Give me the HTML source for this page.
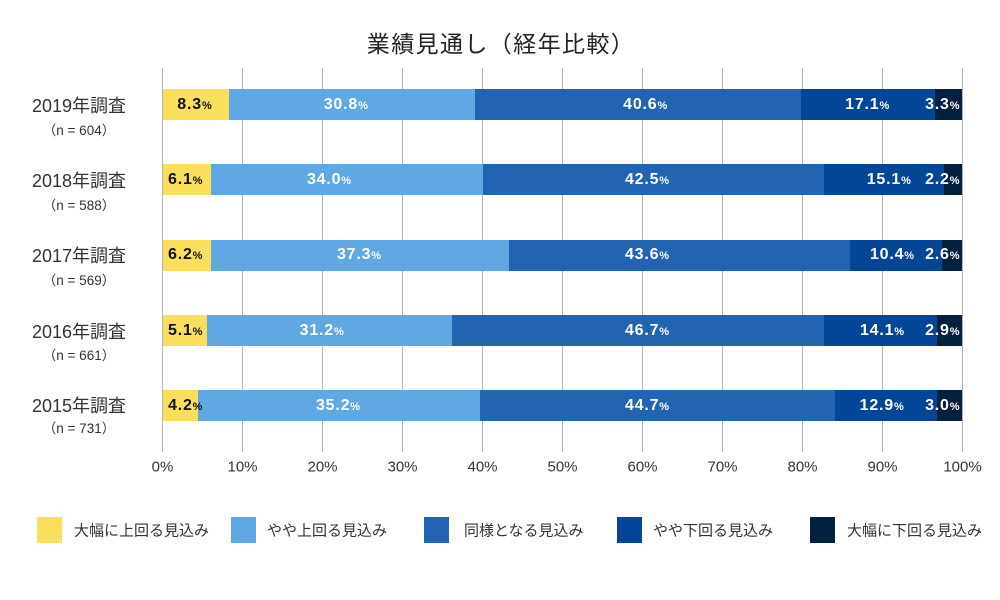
<!DOCTYPE html>
<html><head><meta charset="utf-8">
<style>
html,body{margin:0;padding:0;background:#fff;}
#c{position:relative;width:1000px;height:600px;overflow:hidden;background:#fff;font-family:"Liberation Sans","Noto Sans CJK JP",sans-serif;color:#333;}
.t{position:absolute;white-space:nowrap;}
.title{left:501px;top:42px;transform:translate(-50%,-50%);font-size:23px;letter-spacing:1.4px;color:#222;font-family:"Noto Sans CJK JP","Liberation Sans",sans-serif;font-weight:400;}
.g{position:absolute;top:68px;height:384px;width:1px;background:#b5b5b5;}
.bar{position:absolute;height:31px;}
.y1{background:#F9DF5C;}
.y2{background:#60A8E3;}
.y3{background:#2263B2;}
.y4{background:#034597;}
.y5{background:#03203F;}
.lbl{position:absolute;white-space:nowrap;transform:translate(-50%,-50%);font-weight:bold;font-size:16px;color:#fff;letter-spacing:0.8px;}
.lbl small{font-size:11px;letter-spacing:0;}
.lbl.dk{color:#111;}
.lbl.l{transform:translate(0,-50%);}
.lbl.r{transform:translate(-100%,-50%);}
.yl{position:absolute;transform:translate(-100%,-50%);font-size:18px;color:#333;left:126px;}
.yn{position:absolute;transform:translate(-50%,-50%);font-size:13.5px;color:#333;left:79px;}
.tk{position:absolute;top:467px;transform:translate(-50%,-50%);font-size:15px;color:#333;}
.lg{position:absolute;top:517px;width:25px;height:26px;}
.lt{position:absolute;top:530px;transform:translate(0,-50%);font-size:15px;color:#333;}
</style></head><body><div id="c">
<div class="t title">業績見通し（経年比較）</div>

<!-- gridlines -->
<div class="g" style="left:162px"></div>
<div class="g" style="left:242px"></div>
<div class="g" style="left:322px"></div>
<div class="g" style="left:402px"></div>
<div class="g" style="left:482px"></div>
<div class="g" style="left:562px"></div>
<div class="g" style="left:642px"></div>
<div class="g" style="left:722px"></div>
<div class="g" style="left:802px"></div>
<div class="g" style="left:882px"></div>
<div class="g" style="left:962px"></div>

<!-- 2019 -->
<div class="bar y1" style="top:89px;left:162.5px;width:66.5px"></div>
<div class="bar y2" style="top:89px;left:229px;width:246.3px"></div>
<div class="bar y3" style="top:89px;left:475.3px;width:325.4px"></div>
<div class="bar y4" style="top:89px;left:800.7px;width:134.3px"></div>
<div class="bar y5" style="top:89px;left:935px;width:27px"></div>
<!-- 2018 -->
<div class="bar y1" style="top:164px;left:162.5px;width:48.5px"></div>
<div class="bar y2" style="top:164px;left:211px;width:272.3px"></div>
<div class="bar y3" style="top:164px;left:483.3px;width:340.7px"></div>
<div class="bar y4" style="top:164px;left:824px;width:120.3px"></div>
<div class="bar y5" style="top:164px;left:944.3px;width:17.7px"></div>
<!-- 2017 -->
<div class="bar y1" style="top:239.5px;left:162.5px;width:48.5px"></div>
<div class="bar y2" style="top:239.5px;left:211px;width:298px"></div>
<div class="bar y3" style="top:239.5px;left:509px;width:341px"></div>
<div class="bar y4" style="top:239.5px;left:850px;width:91.7px"></div>
<div class="bar y5" style="top:239.5px;left:941.7px;width:20.3px"></div>
<!-- 2016 -->
<div class="bar y1" style="top:315px;left:162.5px;width:44.2px"></div>
<div class="bar y2" style="top:315px;left:206.7px;width:245.3px"></div>
<div class="bar y3" style="top:315px;left:452px;width:372.3px"></div>
<div class="bar y4" style="top:315px;left:824.3px;width:113px"></div>
<div class="bar y5" style="top:315px;left:937.3px;width:24.7px"></div>
<!-- 2015 -->
<div class="bar y1" style="top:390px;left:162.5px;width:35.8px"></div>
<div class="bar y2" style="top:390px;left:198.3px;width:281.7px"></div>
<div class="bar y3" style="top:390px;left:480px;width:355px"></div>
<div class="bar y4" style="top:390px;left:835px;width:102.3px"></div>
<div class="bar y5" style="top:390px;left:937.3px;width:24.7px"></div>

<!-- labels 2019 -->
<div class="lbl dk" style="left:194.5px;top:104.5px">8.3<small>%</small></div>
<div class="lbl" style="left:345.8px;top:104.5px">30.8<small>%</small></div>
<div class="lbl" style="left:645.2px;top:104.5px">40.6<small>%</small></div>
<div class="lbl" style="left:867.2px;top:104.5px">17.1<small>%</small></div>
<div class="lbl r" style="left:959.5px;top:104.5px">3.3<small>%</small></div>
<!-- 2018 -->
<div class="lbl dk l" style="left:168px;top:179.5px">6.1<small>%</small></div>
<div class="lbl" style="left:329px;top:179.5px">34.0<small>%</small></div>
<div class="lbl" style="left:647px;top:179.5px">42.5<small>%</small></div>
<div class="lbl" style="left:888.8px;top:179.5px">15.1<small>%</small></div>
<div class="lbl r" style="left:959.5px;top:179.5px">2.2<small>%</small></div>
<!-- 2017 -->
<div class="lbl dk l" style="left:168px;top:255px">6.2<small>%</small></div>
<div class="lbl" style="left:359px;top:255px">37.3<small>%</small></div>
<div class="lbl" style="left:647px;top:255px">43.6<small>%</small></div>
<div class="lbl" style="left:892px;top:255px">10.4<small>%</small></div>
<div class="lbl r" style="left:959.5px;top:255px">2.6<small>%</small></div>
<!-- 2016 -->
<div class="lbl dk l" style="left:168px;top:330.5px">5.1<small>%</small></div>
<div class="lbl" style="left:321.7px;top:330.5px">31.2<small>%</small></div>
<div class="lbl" style="left:647px;top:330.5px">46.7<small>%</small></div>
<div class="lbl" style="left:882px;top:330.5px">14.1<small>%</small></div>
<div class="lbl r" style="left:959.5px;top:330.5px">2.9<small>%</small></div>
<!-- 2015 -->
<div class="lbl dk l" style="left:168px;top:405.5px">4.2<small>%</small></div>
<div class="lbl" style="left:338px;top:405.5px">35.2<small>%</small></div>
<div class="lbl" style="left:647px;top:405.5px">44.7<small>%</small></div>
<div class="lbl" style="left:881.7px;top:405.5px">12.9<small>%</small></div>
<div class="lbl r" style="left:959.5px;top:405.5px">3.0<small>%</small></div>

<!-- y labels -->
<div class="yl" style="top:105px">2019年調査</div>
<div class="yn" style="top:129px">（n = 604）</div>
<div class="yl" style="top:180px">2018年調査</div>
<div class="yn" style="top:204px">（n = 588）</div>
<div class="yl" style="top:255px">2017年調査</div>
<div class="yn" style="top:279px">（n = 569）</div>
<div class="yl" style="top:330.5px">2016年調査</div>
<div class="yn" style="top:354px">（n = 661）</div>
<div class="yl" style="top:405px">2015年調査</div>
<div class="yn" style="top:427px">（n = 731）</div>

<!-- ticks -->
<div class="tk" style="left:162.5px">0%</div>
<div class="tk" style="left:242.5px">10%</div>
<div class="tk" style="left:322.5px">20%</div>
<div class="tk" style="left:402.5px">30%</div>
<div class="tk" style="left:482.5px">40%</div>
<div class="tk" style="left:562.5px">50%</div>
<div class="tk" style="left:642.5px">60%</div>
<div class="tk" style="left:722.5px">70%</div>
<div class="tk" style="left:802.5px">80%</div>
<div class="tk" style="left:882.5px">90%</div>
<div class="tk" style="left:962.5px">100%</div>

<!-- legend -->
<div class="lg y1" style="left:37px"></div>
<div class="lt" style="left:74px">大幅に上回る見込み</div>
<div class="lg y2" style="left:231px"></div>
<div class="lt" style="left:267px">やや上回る見込み</div>
<div class="lg y3" style="left:424px"></div>
<div class="lt" style="left:464px">同様となる見込み</div>
<div class="lg y4" style="left:617px"></div>
<div class="lt" style="left:653px">やや下回る見込み</div>
<div class="lg y5" style="left:810px"></div>
<div class="lt" style="left:847px">大幅に下回る見込み</div>
</div></body></html>
